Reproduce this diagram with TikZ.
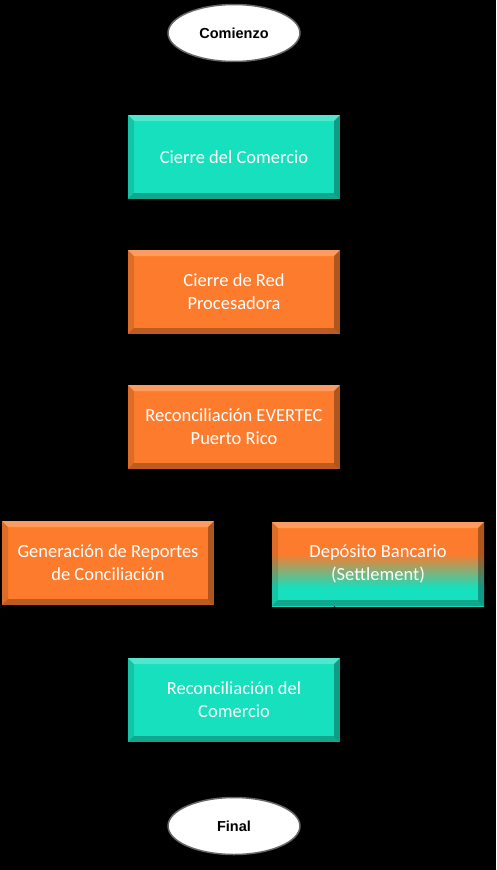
\documentclass[tikz,border=0pt]{standalone}
\usepackage{fontspec}
\setmainfont{Carlito}
\newfontfamily\endfont{Liberation Sans}
\usepackage{xcolor}
\definecolor{myteal}  {RGB}{22, 224, 190}
\definecolor{myorange}{RGB}{252, 123, 44}
\usetikzlibrary{arrows.meta, positioning, shapes.geometric}
\pgfdeclareverticalshading{orangeteal}{100bp}{color(0bp)=(myteal); color(36bp)=(myteal); color(56bp)=(myorange); color(100bp)=(myorange)}

\begin{document}
\begin{tikzpicture}[x=1pt, y=-1pt,
    every node/.style={font=\fontsize{18.5}{23}\selectfont},
    bevel/.style={path picture={
        \fill[white, opacity=0.25] (path picture bounding box.north west) -- (path picture bounding box.north east) -- ([xshift=-6pt, yshift=-6pt]path picture bounding box.north east) -- ([xshift=6pt, yshift=-6pt]path picture bounding box.north west) -- cycle;
        \fill[black, opacity=0.25] (path picture bounding box.south west) -- (path picture bounding box.south east) -- ([xshift=-6pt, yshift=6pt]path picture bounding box.south east) -- ([xshift=6pt, yshift=6pt]path picture bounding box.south west) -- cycle;
        \fill[black, opacity=0.3] (path picture bounding box.north east) -- (path picture bounding box.south east) -- ([xshift=-6pt, yshift=6pt]path picture bounding box.south east) -- ([xshift=-6pt, yshift=-6pt]path picture bounding box.north east) -- cycle;
        \fill[black, opacity=0.12] (path picture bounding box.north west) -- (path picture bounding box.south west) -- ([xshift=6pt, yshift=6pt]path picture bounding box.south west) -- ([xshift=6pt, yshift=-6pt]path picture bounding box.north west) -- cycle;
    }},
    procbox/.style={rectangle, bevel, text=white, minimum width=212pt, minimum height=84pt, align=center, inner sep=0pt},
    tealbox/.style={procbox, fill=myteal},
    orangebox/.style={procbox, fill=myorange},
    mixbox/.style={procbox, shading=orangeteal},
    endpoint/.style={ellipse, draw=black!60, line width=1.5pt, fill=white, minimum width=132pt, minimum height=57pt, font=\endfont\bfseries\fontsize{14.5}{16}\selectfont},
    flow/.style={draw=black, -{Stealth}}]
    \fill[black] (0, 0) rectangle (496, 870);
    \useasboundingbox (0, 0) rectangle (496, 870);

    \node[endpoint] (start) at (234, 33) {Comienzo};
    \node[tealbox] (cierrecom) at (234, 157) {Cierre del Comercio};
    \node[orangebox] (cierrered) at (234, 292) {Cierre de Red\\Procesadora};
    \node[orangebox] (evertec) at (234, 427) {Reconciliación EVERTEC\\Puerto Rico};
    \node[orangebox] (reportes) at (108, 563) {Generación de Reportes\\de Conciliación};
    \node[mixbox] (deposito) at (378, 564) {Depósito Bancario\\(Settlement)};
    \node[tealbox] (reccom) at (234, 700) {Reconciliación del\\Comercio};
    \node[endpoint] (final) at (234, 826) {Final};

    \draw[flow] (start) -- (cierrecom);
    \draw[flow] (cierrecom) -- (cierrered);
    \draw[flow] (cierrered) -- (evertec);
    \draw[flow] ([xshift=-38pt]evertec.south) -- ([xshift=39pt]reportes.north);
    \draw[flow] ([xshift=44pt]evertec.south) -- ([xshift=-43pt]deposito.north);
    \draw[flow] ([xshift=39pt]reportes.south) -- ([xshift=-38pt]reccom.north);
    \draw[flow] ([xshift=-43pt]deposito.south) -- ([xshift=44pt]reccom.north);
    \draw[flow] (reccom) -- (final);
\end{tikzpicture}
\end{document}
